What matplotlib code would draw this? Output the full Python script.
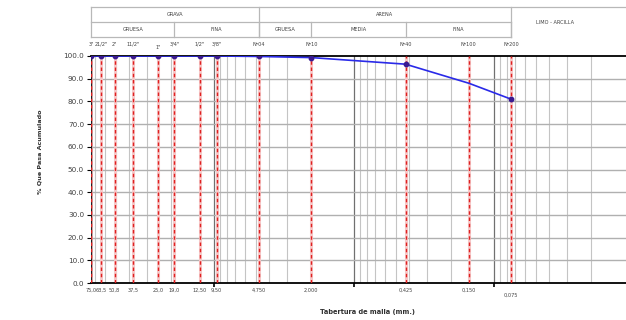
import numpy as np
import matplotlib
matplotlib.use("Agg")
import matplotlib.pyplot as plt
import matplotlib.transforms as mtransforms

# Sieve openings (mm), names and % passing
sizes = [75.0, 63.5, 50.8, 37.5, 25.0, 19.0, 12.5, 9.5, 4.75, 2.0, 0.425, 0.150, 0.075]
sieve_names = ['3"', '21/2"', '2"', '11/2"', '1"', '3/4"', '1/2"', '3/8"',
               'Nº04', 'Nº10', 'Nº40', 'Nº100', 'Nº200']
size_labels = ['75,0', '63,5', '50,8', '37,5', '25,0', '19,0', '12,50', '9,50',
               '4,750', '2,000', '0,425', '0,150', '0,075']
passing = [100.0, 100.0, 100.0, 100.0, 100.0, 100.0, 100.0, 100.0, 99.8, 99.3, 96.4, 88.0, 81.0]

# header: (left size, right size, text) for each row
row1 = [(75.0, 4.75, 'GRAVA'), (4.75, 0.075, 'ARENA')]
row2 = [(75.0, 19.0, 'GRUESA'), (19.0, 4.75, 'FINA'), (4.75, 2.0, 'GRUESA'),
        (2.0, 0.425, 'MEDIA'), (0.425, 0.075, 'FINA')]
fines_label = 'LIMO - ARCILLA'

W, H = 626, 320
fig = plt.figure(figsize=(W / 100, H / 100), dpi=100)

x_left, x_right = 91, 626
y_top, y_bot = 56, 283
xmax = 75.0
xmin = 75.0 / 10 ** ((x_right - x_left) / 140.0)

ax = fig.add_axes([x_left / W, 1 - y_bot / H, (x_right - x_left) / W, (y_bot - y_top) / H])
ax.set_xscale('log')
ax.set_xlim(xmax, xmin)
ax.set_ylim(0, 100)

# grid
for d in [100, 10, 1, 0.1, 0.01]:
    for m in range(2, 10):
        v = d * m / 10
        if xmin < v < xmax:
            ax.axvline(v, color='#c4c4c4', lw=0.8, zorder=1)
for d in [10, 1, 0.1]:
    ax.axvline(d, color='#707070', lw=0.9, zorder=1)
for yv in range(10, 100, 10):
    ax.axhline(yv, color='#b0b0b0', lw=1.0, zorder=1)

# sieve lines
for s in sizes:
    ax.axvline(s, color='#f6c8c8', lw=2.2, zorder=2)
    ax.axvline(s, color='#e02020', lw=1.0, ls=(0, (2.5, 2)), zorder=3)

# curve
ax.plot(sizes, passing, color='#2a2ae8', lw=1.2, zorder=5)
mk = [i for i, s in enumerate(sizes) if s != 0.150]
ax.plot([sizes[i] for i in mk], [passing[i] for i in mk], ls='none', marker='o',
        ms=3.2, color='#3a1a90', zorder=6)

for side in ['left', 'right']:
    ax.spines[side].set_visible(False)
ax.spines['bottom'].set_linewidth(1.3)
ax.spines['top'].set_linewidth(1.3)
ax.axvline(75.0, color='#202020', lw=1.0, zorder=2)

ax.set_yticks(range(0, 101, 10))
ax.set_yticklabels(['%.1f' % v for v in range(0, 101, 10)], fontsize=5.2, color='#404040')
ax.tick_params(axis='y', length=3, width=0.8, pad=2)
ax.set_xticks([10, 1, 0.1])
ax.set_xticklabels([])
ax.xaxis.set_minor_locator(matplotlib.ticker.NullLocator())
ax.tick_params(axis='x', length=3, width=1.2, direction='out', color='black')

trans = mtransforms.blended_transform_factory(ax.transData, ax.transAxes)
for s, lab in zip(sizes, size_labels):
    dy = -0.045 if s == 0.075 else -0.02
    ax.text(s, dy, lab, transform=trans, ha='center', va='top', fontsize=3.6, color='#404040')
for s, lab in zip(sizes, sieve_names):
    dy = 1.025 if lab == '1"' else 1.04
    ax.text(s, dy, lab, transform=trans, ha='center', va='bottom', fontsize=3.6, color='#404040')

fig.text(40 / W, 1 - 152 / H, '% Que Pasa Acumulado', rotation=90, ha='center', va='center',
         fontsize=4.6, fontweight='bold', color='#303030')
fig.text(367 / W, 1 - 312 / H, 'Tabertura de malla (mm.)', ha='center', va='center',
         fontsize=4.8, fontweight='bold', color='#303030')

# header table
hy_top, hy_mid, hy_bot = 7, 23, 37
hx = fig.add_axes([x_left / W, 1 - hy_bot / H, (x_right - x_left) / W, (hy_bot - hy_top) / H])
hx.set_xscale('log')
hx.set_xlim(xmax, xmin)
hx.set_ylim(0, 2)
hx.axis('off')
gc = '#b8b8b8'
hx.plot([xmax, xmin], [2, 2], color=gc, lw=0.9, clip_on=False)
hx.plot([xmax, 0.075], [1, 1], color=gc, lw=0.9, clip_on=False)
hx.plot([xmax, 0.075], [0, 0], color=gc, lw=0.9, clip_on=False)
hx.plot([xmax, xmax], [0, 2], color=gc, lw=0.9, clip_on=False)
for a, b, t in row1:
    hx.plot([b, b], [0, 2], color=gc, lw=0.9, clip_on=False)
    hx.text(np.sqrt(a * b), 1.5, t, ha='center', va='center', fontsize=3.6, color='#404040')
for a, b, t in row2:
    hx.plot([b, b], [0, 1], color=gc, lw=0.9, clip_on=False)
    hx.text(np.sqrt(a * b), 0.5, t, ha='center', va='center', fontsize=3.6, color='#404040')
hx.text(np.sqrt(0.075 * xmin) * 1.25, 1.0, fines_label, ha='center', va='center',
        fontsize=3.6, color='#404040')

fig.savefig('out.png', dpi=100)
